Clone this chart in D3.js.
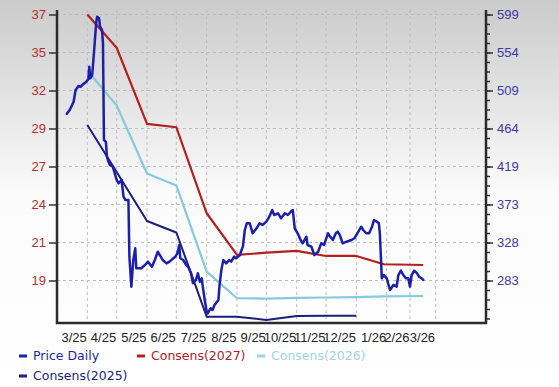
<!DOCTYPE html>
<html>
<head>
<meta charset="utf-8">
<script src="https://cdn.jsdelivr.net/npm/d3@7"></script>
<style>
  html, body { margin: 0; padding: 0; background: #fff; }
  svg { display: block; font-family: "DejaVu Sans", Verdana, sans-serif; }
</style>
</head>
<body>
<svg id="chart" width="559" height="387"></svg>
<script>
// month labels on the time axis (each label ends at its month's closing gridline)
const X_LABELS = ['3/25', '4/25', '5/25', '6/25', '7/25', '8/25', '9/25', '10/25', '11/25', '12/25', '1/26', '2/26', '3/26'];
const LEFT_LABELS = ['37', '35', '32', '29', '27', '24', '21', '19'];
const RIGHT_LABELS = ['599', '554', '509', '464', '419', '373', '328', '283'];

const PRICE_DATES = [
  '2025-03-11', '2025-03-14', '2025-03-18', '2025-03-20', '2025-03-23', '2025-03-25', '2025-03-28', '2025-03-31',
  '2025-04-02', '2025-04-03', '2025-04-04', '2025-04-06', '2025-04-08', '2025-04-10', '2025-04-11', '2025-04-13',
  '2025-04-14', '2025-04-16', '2025-04-17', '2025-04-18', '2025-04-20', '2025-04-21', '2025-04-22', '2025-04-24', '2025-04-27',
  '2025-05-01', '2025-05-03', '2025-05-06', '2025-05-08', '2025-05-10', '2025-05-13', '2025-05-14', '2025-05-16',
  '2025-05-18', '2025-05-20', '2025-05-21', '2025-05-26', '2025-05-30',
  '2025-06-02', '2025-06-06', '2025-06-09', '2025-06-12', '2025-06-15', '2025-06-17', '2025-06-21', '2025-06-24', '2025-06-28', '2025-06-30',
  '2025-07-02', '2025-07-04', '2025-07-05', '2025-07-08', '2025-07-11', '2025-07-13', '2025-07-16', '2025-07-18',
  '2025-07-21', '2025-07-23', '2025-07-25', '2025-07-27', '2025-07-28', '2025-07-30',
  '2025-08-01', '2025-08-02', '2025-08-05', '2025-08-07', '2025-08-09', '2025-08-13', '2025-08-14', '2025-08-16',
  '2025-08-18', '2025-08-21', '2025-08-24', '2025-08-26', '2025-08-29', '2025-08-31',
  '2025-09-04', '2025-09-05', '2025-09-07', '2025-09-09', '2025-09-11', '2025-09-14', '2025-09-17', '2025-09-21', '2025-09-24', '2025-09-27',
  '2025-10-01', '2025-10-04', '2025-10-07', '2025-10-09', '2025-10-13', '2025-10-16', '2025-10-20', '2025-10-23', '2025-10-26', '2025-10-28', '2025-10-30',
  '2025-11-02', '2025-11-05', '2025-11-07', '2025-11-11', '2025-11-12', '2025-11-16', '2025-11-19', '2025-11-23', '2025-11-26', '2025-11-29',
  '2025-12-03', '2025-12-04', '2025-12-08', '2025-12-11', '2025-12-13', '2025-12-15', '2025-12-18', '2025-12-22', '2025-12-27', '2025-12-30',
  '2026-01-02', '2026-01-06', '2026-01-08', '2026-01-11', '2026-01-14', '2026-01-17', '2026-01-19', '2026-01-22',
  '2026-01-24', '2026-01-25', '2026-01-27', '2026-01-29',
  '2026-02-01', '2026-02-05', '2026-02-09', '2026-02-13', '2026-02-15', '2026-02-18', '2026-02-21', '2026-02-24', '2026-02-27',
  '2026-03-01', '2026-03-03', '2026-03-06', '2026-03-09', '2026-03-12', '2026-03-15', '2026-03-17'
];
const PRICE_VALUES = [
  481, 485.6, 495.4, 509.3, 514.1, 513.2, 516.4, 519.2,
  522, 537, 523.2, 527.1, 556.8, 588.5, 596.4, 594.5,
  584.5, 580.6, 565.1, 450, 447.5, 430.1, 426.2, 420.2, 418.2,
  402.4, 398.5, 402.4, 382.6, 378.6, 378.6, 311.3, 275.7,
  307.4, 321.3, 297.5, 297.5, 301.4,
  305.4, 299.4, 307.4, 317.2, 311.3, 307.4, 303.4, 305.4, 309.4, 311.3,
  315.3, 325.2, 309.4, 307.4, 301.4, 299.4, 291.6, 279.7,
  283.6, 291.6, 281.6, 285.6, 275.7, 259.8,
  246, 244, 250, 248, 253.9, 259.8, 275.7, 295.5,
  307.4, 303.4, 307.4, 305.4, 311.3, 309.4,
  313.3, 317.2, 323.2, 343, 351, 351, 339.1, 345, 351, 349,
  352.9, 358.8, 366.8, 360.8, 362.8, 356.9, 362.8, 360.8, 364.7, 366.8, 345,
  339.1, 331.1, 327.2, 335, 325.2, 323.2, 313.3, 317.2, 327.2, 325.2,
  339.1, 337.1, 331.1, 339.1, 341, 337.1, 327.2, 329.1, 331.1, 333.2,
  339.1, 346.9, 343, 339.1, 339.1, 346.9, 354.9, 352.9,
  351, 339.1, 285.6, 289.5,
  285.6, 271.7, 277.7, 275.7, 289.5, 294.7, 289.5, 285.6, 285.6,
  275.7, 289.5, 294.7, 292.3, 287.5, 285.6, 283.6
];

const CONS_DATES = ['2025-04-01', '2025-05-01', '2025-06-01', '2025-07-01', '2025-08-01', '2025-09-01',
  '2025-10-01', '2025-11-01', '2025-12-01', '2026-01-01', '2026-01-29', '2026-03-17'];
const CONS_2027 = [37.0, 34.75, 29.6, 29.37, 23.55, 20.73, 20.88, 21.0, 20.66, 20.66, 20.1, 20.05];
const CONS_2026 = [33.21, 30.84, 26.24, 25.43, 19.6, 17.8, 17.78, 17.82, 17.85, 17.87, 17.92, 17.95];
const CONS_2025 = [29.52, 26.34, 23.03, 22.25, 16.55, 16.55, 16.33, 16.6, 16.62, 16.62];

const MARGIN = { top: 10, right: 73, bottom: 64, left: 57 };
const WIDTH = 559;
const HEIGHT = 387;
const TICK_TOP = 4.5;
const TICK_STEP = 38;

const COLORS = {
  price: '#1c1fae',
  c2027: '#b3201f',
  c2026: '#86cbdc',
  c2025: '#1b1f7c',
  leftText: '#b3302a',
  rightText: '#3b3aa6',
};

const parse = d3.timeParse('%Y-%m-%d');
const chartWidth = WIDTH - MARGIN.left - MARGIN.right;
const chartHeight = HEIGHT - MARGIN.top - MARGIN.bottom;
const tickDates = d3.timeMonth.range(new Date(2025, 3, 1), new Date(2026, 4, 1));

// the feed squeezes the last months, so the time axis is piecewise
const xScale = d3.scaleTime()
  .domain([new Date(2025, 2, 1), new Date(2026, 1, 1), new Date(2026, 2, 1), new Date(2026, 5, 1)])
  .range([0, 329.7, 353, chartWidth]);
const lastTickY = TICK_TOP + TICK_STEP * (LEFT_LABELS.length - 1);
const yLeft = d3.scaleLinear().domain([19, 37]).range([lastTickY, TICK_TOP]);
const yRight = d3.scaleLinear().domain([283, 599]).range([lastTickY, TICK_TOP]);

const leftTicks = LEFT_LABELS.map((d, i) => 37 - i * 18 / (LEFT_LABELS.length - 1));
const rightTicks = RIGHT_LABELS.map((d, i) => 599 - i * 316 / (RIGHT_LABELS.length - 1));
const rightStep = 316 / (RIGHT_LABELS.length - 1);
const minorTicks = d3.range(0, 33).map((i) => 599 - i * rightStep / 4).filter((v) => yRight(v) <= chartHeight - 2);

const svg = d3.select('#chart');

const grad = svg.append('defs').append('linearGradient')
  .attr('id', 'bg').attr('x1', 0).attr('y1', 0).attr('x2', 0).attr('y2', 1);
grad.append('stop').attr('offset', '0%').attr('stop-color', '#cbcbcb');
grad.append('stop').attr('offset', '50%').attr('stop-color', '#fbfbfb');
grad.append('stop').attr('offset', '100%').attr('stop-color', '#ffffff');
svg.append('rect').attr('width', WIDTH).attr('height', HEIGHT).attr('fill', 'url(#bg)');

const g = svg.append('g').attr('transform', `translate(${MARGIN.left},${MARGIN.top})`);

// grid
g.append('g').selectAll('line').data(leftTicks).enter().append('line')
  .attr('x1', 0).attr('x2', chartWidth)
  .attr('y1', (d) => yLeft(d)).attr('y2', (d) => yLeft(d))
  .attr('stroke', '#bdbdbd').attr('stroke-dasharray', '3,3');
g.append('g').selectAll('line').data(tickDates).enter().append('line')
  .attr('x1', (d) => xScale(d)).attr('x2', (d) => xScale(d))
  .attr('y1', 0).attr('y2', chartHeight)
  .attr('stroke', '#bdbdbd').attr('stroke-dasharray', '3,3');

// left axis
const leftAxis = g.append('g')
  .call(d3.axisLeft(yLeft).tickValues(leftTicks).tickFormat((d, i) => LEFT_LABELS[i]).tickSize(8).tickPadding(3));
leftAxis.select('.domain').remove();
leftAxis.selectAll('line').attr('stroke', '#333').attr('stroke-width', 1.5);
leftAxis.selectAll('text').attr('fill', COLORS.leftText).style('font-size', '13px');

// right axis
const rightMinor = g.append('g').attr('transform', `translate(${chartWidth},0)`)
  .call(d3.axisRight(yRight).tickValues(minorTicks).tickFormat('').tickSize(4));
rightMinor.select('.domain').remove();
rightMinor.selectAll('line').attr('stroke', '#333').attr('stroke-width', 1.5);
const rightAxis = g.append('g').attr('transform', `translate(${chartWidth},0)`)
  .call(d3.axisRight(yRight).tickValues(rightTicks).tickFormat((d, i) => RIGHT_LABELS[i]).tickSize(7).tickPadding(4));
rightAxis.select('.domain').remove();
rightAxis.selectAll('line').attr('stroke', '#333').attr('stroke-width', 1.5);
rightAxis.selectAll('text').attr('fill', COLORS.rightText).style('font-size', '13px');

// bottom axis
const bottomAxis = g.append('g').attr('transform', `translate(0,${chartHeight})`)
  .call(d3.axisBottom(xScale).tickValues(tickDates).tickFormat((d, i) => X_LABELS[i]).tickSize(0).tickPadding(10));
bottomAxis.select('.domain').remove();
bottomAxis.selectAll('text')
  .attr('text-anchor', 'end').attr('dx', '-1')
  .attr('fill', '#222').style('font-size', '13px');

// frame
g.append('path')
  .attr('d', d3.line()([[0, 0], [0, chartHeight], [chartWidth, chartHeight], [chartWidth, 0]]))
  .attr('fill', 'none').attr('stroke', '#2b2b2b').attr('stroke-width', 2.5);

// series
const consLine = d3.line().x((d) => xScale(d[0])).y((d) => yLeft(d[1]));
const consDates = CONS_DATES.map(parse);
[
  [CONS_2027, COLORS.c2027, 2.2],
  [CONS_2026, COLORS.c2026, 2.2],
  [CONS_2025, COLORS.c2025, 2],
].forEach(([values, color, w]) => {
  g.append('path')
    .datum(values.map((v, i) => [consDates[i], v]))
    .attr('d', consLine)
    .attr('fill', 'none').attr('stroke', color).attr('stroke-width', w)
    .attr('stroke-linejoin', 'round');
});

const priceLine = d3.line().x((d) => xScale(d[0])).y((d) => yRight(d[1]));
g.append('path')
  .datum(PRICE_VALUES.map((v, i) => [parse(PRICE_DATES[i]), v]))
  .attr('d', priceLine)
  .attr('fill', 'none').attr('stroke', COLORS.price).attr('stroke-width', 2.5)
  .attr('stroke-linejoin', 'round').attr('stroke-linecap', 'round');

// legend
const legendItems = [
  { name: 'Price Daily', color: COLORS.price, x: 19, y: 356 },
  { name: 'Consens(2027)', color: COLORS.c2027, x: 137, y: 356 },
  { name: 'Consens(2026)', color: '#9fd5e3', x: 257, y: 356 },
  { name: 'Consens(2025)', color: COLORS.c2025, x: 19, y: 376 },
];
const legend = svg.append('g').selectAll('g').data(legendItems).enter().append('g')
  .attr('transform', (d) => `translate(${d.x},${d.y})`);
legend.append('rect').attr('x', 0).attr('y', -1.5).attr('width', 8).attr('height', 3).attr('fill', (d) => d.color);
legend.append('text')
  .attr('x', 14).attr('dy', '0.35em')
  .attr('fill', (d) => d.color)
  .style('font-size', '12.5px')
  .text((d) => d.name);
</script>
</body>
</html>
